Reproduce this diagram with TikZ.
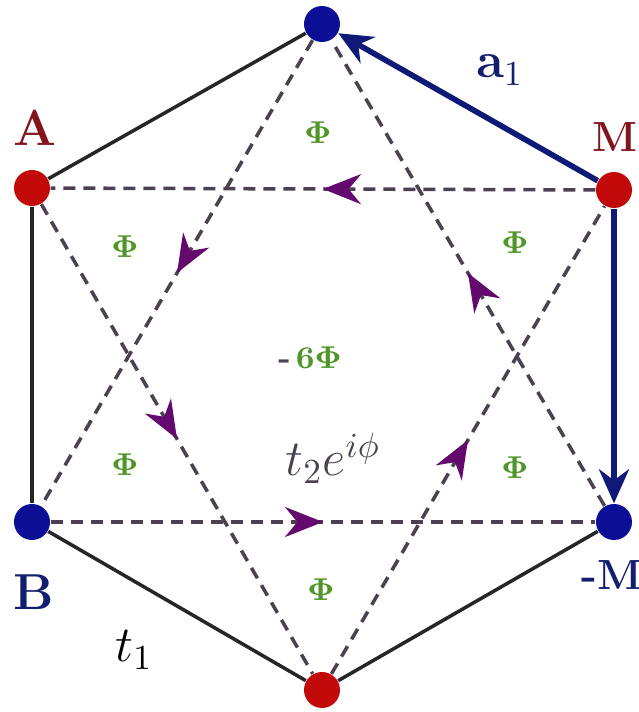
\documentclass[tikz,border=0pt]{standalone}
\usepackage{amsmath}
\usetikzlibrary{arrows.meta,decorations.markings}
\definecolor{nodered}{RGB}{195,10,10}
\definecolor{nodeblue}{RGB}{10,15,150}
\definecolor{labred}{RGB}{130,20,30}
\definecolor{labblue}{RGB}{20,30,110}
\definecolor{vecblue}{RGB}{15,25,120}
\definecolor{hopgray}{RGB}{75,65,80}
\definecolor{hoppurple}{RGB}{100,10,110}
\definecolor{fluxgreen}{RGB}{80,150,40}
\tikzset{
  rnode/.style={circle,fill=nodered,minimum size=3.6mm,inner sep=0pt},
  bnode/.style={circle,fill=nodeblue,minimum size=3.6mm,inner sep=0pt},
  nn/.style={line width=1pt,black!85},
  vec/.style={-{Stealth[length=3.4mm,width=3mm]},line width=1.6pt,vecblue},
  nnn/.style={line width=1pt,hopgray,dash pattern=on 1.2mm off 0.8mm,
    postaction={decorate,decoration={markings,
      mark=at position 0.5 with {\arrow[hoppurple,solid]{Stealth[length=3.8mm,width=3mm]}}}}},
  flux/.style={text=fluxgreen,font=\small\bfseries},
  slab/.style={font=\Large\bfseries}
}

\begin{document}
\begin{tikzpicture}
\useasboundingbox (0,0) rectangle (6.39,7.12);
\node[bnode] (T) at (3.22,6.88) {};
\node[rnode] (M) at (6.14,5.22) {};
\node[bnode] (mM) at (6.14,1.90) {};
\node[rnode] (D) at (3.22,0.22) {};
\node[bnode] (B) at (0.32,1.90) {};
\node[rnode] (A) at (0.32,5.24) {};
% hoppings t2
\draw[nnn] (A) -- (D);
\draw[nnn] (D) -- (M);
\draw[nnn] (M) -- (A);
\draw[nnn] (T) -- (B);
\draw[nnn] (B) -- (mM);
\draw[nnn] (mM) -- (T);
% hoppings t1
\draw[nn] (T) -- (A);
\draw[nn] (A) -- (B);
\draw[nn] (B) -- (D);
\draw[nn] (D) -- (mM);
\draw[vec] (M) -- (T);
\draw[vec] (M) -- (mM);
% labels
\node[slab,text=labred] (lA) at (0.35,5.84) {A};
\node[font=\large\bfseries,text=labred] (lM) at (6.15,5.75) {M};
\node[slab,text=labblue] (lB) at (0.34,1.20) {B};
\node[font=\large\bfseries,text=labblue] (lmM) at (6.12,1.37) {-M};
\node[text=labblue,font=\Large] (la) at (5.00,6.42) {$\mathbf{a}_1$};
\node[font=\Large] (lt1) at (1.34,0.62) {$t_1$};
\node[font=\Large,text=hopgray] (lt2) at (3.33,2.54) {$t_2e^{i\phi}$};
\node[flux] (f1) at (1.25,4.65) {$\mathbf{\Phi}$};
\node[flux] (f2) at (3.18,5.79) {$\mathbf{\Phi}$};
\node[flux] (f3) at (5.15,4.69) {$\mathbf{\Phi}$};
\node[flux] (f4) at (1.25,2.47) {$\mathbf{\Phi}$};
\node[flux] (f5) at (5.15,2.44) {$\mathbf{\Phi}$};
\node[flux] (f6) at (3.21,1.22) {$\mathbf{\Phi}$};
\node[flux] (f0) at (3.10,3.54) {{\color{hopgray}-}\,6$\mathbf{\Phi}$};
\end{tikzpicture}
\end{document}
